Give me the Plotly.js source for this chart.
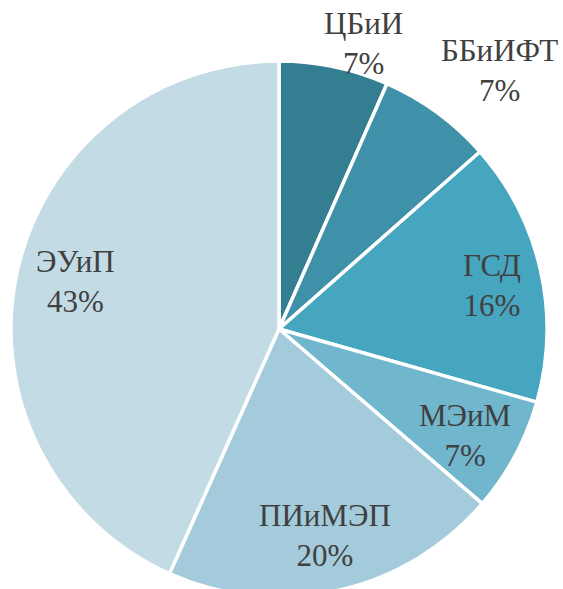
<!DOCTYPE html>
<html>
<head>
<meta charset="utf-8">
<script src="https://cdn.plot.ly/plotly-3.0.1.min.js"></script>
<style>
html,body{margin:0;padding:0;background:#fff;overflow:hidden;}
#chart{width:563px;height:620px;}
</style>
</head>
<body>
<div id="chart"></div>
<script>
// Data
var labels = ["ЦБиИ", "ББиИФТ", "ГСД", "МЭиМ", "ПИиМЭП", "ЭУиП"];
var values = [6.6, 6.9, 15.9, 6.9, 20.4, 43.3];
var colors = ["#347e92", "#3f91a9", "#46a5bf", "#70b6cd", "#a3cbdb", "#c2dbe4"];

// Label placement (style): radius fraction and angle tweak in degrees
var labelRadius = [1.11, 1.27, 0.81, 0.80, 0.79, 0.78];
var labelAngleTweak = [4.6, 4.3, 1.2, 1.4, 0.0, 1.0];

var W = 563, H = 620;
var cx = 279, cy = 329, R = 268;

var total = values.reduce(function(a,b){return a+b;},0);
var annotations = [];
var cum = 0;
for (var i = 0; i < values.length; i++) {
  var mid = (cum + values[i]/2) / total * 360 + labelAngleTweak[i];
  cum += values[i];
  var th = mid * Math.PI / 180;
  var r = labelRadius[i] * R;
  var px = cx + r * Math.sin(th);
  var py = cy - r * Math.cos(th);
  annotations.push({
    text: labels[i] + "<br>" + Math.round(values[i]/total*100) + "%",
    x: px / W, y: 1 - py / H, xref: "paper", yref: "paper",
    xanchor: "center", yanchor: "middle", showarrow: false,
    font: {family: "Liberation Serif", size: 31, color: "#404040"}
  });
}

var trace = {
  type: "pie",
  labels: labels,
  values: values,
  sort: false,
  direction: "clockwise",
  rotation: 0,
  textinfo: "none",
  hoverinfo: "label+percent",
  marker: {colors: colors, line: {color: "#ffffff", width: 3.5}},
  domain: {x: [(cx - R)/W, (cx + R)/W], y: [1 - (cy + R)/H, 1 - (cy - R)/H]},
  showlegend: false
};

var layout = {
  width: W, height: H,
  margin: {l: 0, r: 0, t: 0, b: 0},
  paper_bgcolor: "#ffffff",
  showlegend: false,
  font: {family: "Liberation Serif"},
  annotations: annotations
};

Plotly.newPlot("chart", [trace], layout, {displayModeBar: false, staticPlot: true});
</script>
</body>
</html>
